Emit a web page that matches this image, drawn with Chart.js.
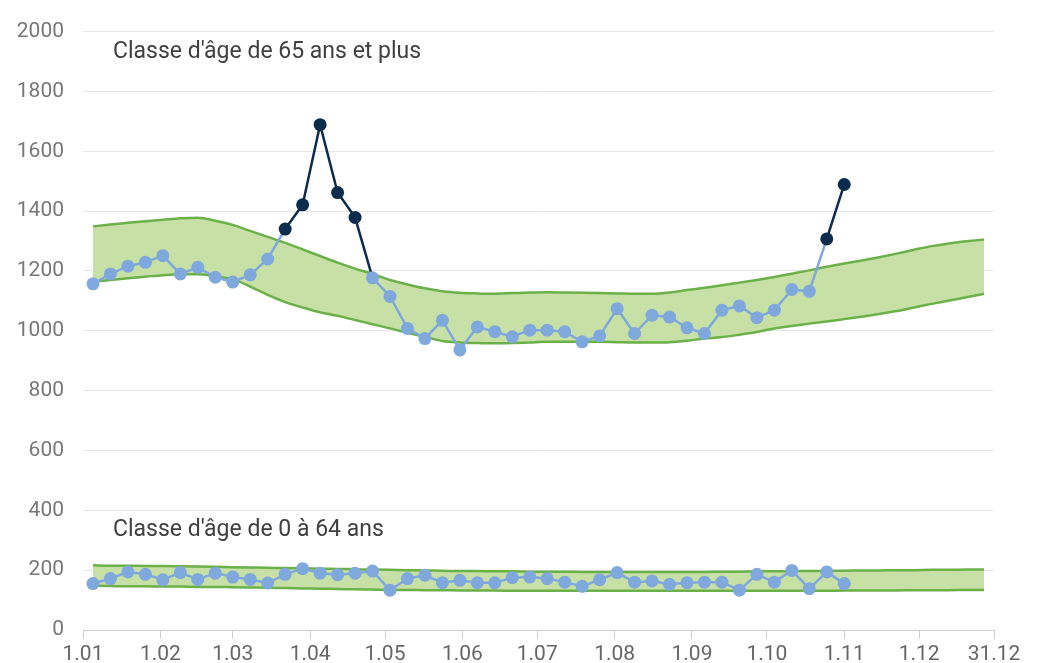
<!DOCTYPE html>
<html>
<head>
<meta charset="utf-8">
<script src="https://cdn.jsdelivr.net/npm/chart.js@4/dist/chart.umd.min.js"></script>
<style>
  html, body { margin: 0; padding: 0; background: #fff; }
  #wrap { width: 1043px; height: 663px; }
</style>
</head>
<body>
<div id="wrap"><canvas id="chart" width="1043" height="663"></canvas></div>
<script>
// jours de l'année (année bissextile), un point par semaine
const weekDays = [4, 11, 18, 25, 32, 39, 46, 53, 60, 67, 74, 81, 88, 95, 102, 109, 116, 123, 130, 137,
  144, 151, 158, 165, 172, 179, 186, 193, 200, 207, 214, 221, 228, 235, 242, 249, 256, 263, 270, 277,
  284, 291, 298, 305, 312, 319, 326, 333, 340, 347, 354, 361];

// graduations de l'axe x
const tickDays = [0, 31, 60, 91, 121, 152, 182, 213, 244, 274, 305, 335, 365];
const tickLabels = ["1.01", "1.02", "1.03", "1.04", "1.05", "1.06", "1.07", "1.08", "1.09", "1.10", "1.11", "1.12", "31.12"];

// 65 ans et plus
const deaths65 = [1157, 1190, 1216, 1229, 1251, 1190, 1212, 1179, 1163, 1187, 1240, 1340, 1421, 1689, 1462,
  1379, 1177, 1115, 1008, 974, 1035, 936, 1013, 997, 980, 1002, 1002, 997, 963, 983, 1074, 991, 1052,
  1046, 1010, 991, 1069, 1083, 1044, 1069, 1138, 1132, 1307, 1489];
const upper65 = [1349, 1355, 1361, 1366, 1371, 1376, 1378, 1368, 1354, 1334, 1314, 1294, 1272, 1250, 1228,
  1208, 1190, 1170, 1155, 1142, 1132, 1127, 1125, 1124, 1126, 1128, 1129, 1128, 1127, 1126, 1125, 1124,
  1124, 1128, 1136, 1144, 1152, 1161, 1170, 1180, 1191, 1202, 1214, 1225, 1235, 1246, 1258, 1271, 1283,
  1292, 1299, 1305];
const lower65 = [1163, 1170, 1176, 1181, 1186, 1189, 1189, 1182, 1172, 1148, 1120, 1096, 1078, 1062, 1050,
  1036, 1022, 1008, 993, 980, 966, 961, 959, 958, 959, 961, 963, 963, 963, 963, 962, 961, 961, 962, 967,
  974, 979, 987, 996, 1008, 1016, 1024, 1031, 1039, 1047, 1056, 1066, 1078, 1090, 1101, 1112, 1124];

// 0 à 64 ans
const deaths0 = [155, 172, 194, 186, 168, 192, 169, 190, 177, 169, 157, 186, 205, 190, 185, 190, 197, 133,
  172, 183, 158, 166, 158, 158, 175, 177, 172, 160, 146, 168, 192, 160, 164, 153, 158, 160, 160, 133, 186,
  160, 199, 138, 194, 155];
const upper0 = [216, 215, 215, 214, 214, 213, 212, 211, 210, 209, 208, 207, 206, 205, 204, 203, 202, 201,
  200, 199, 198, 197, 197, 196, 196, 195, 195, 195, 194, 194, 194, 194, 194, 194, 194, 194, 195, 195, 196,
  196, 197, 197, 198, 198, 199, 199, 200, 200, 201, 201, 202, 202];
const lower0 = [148, 147, 146, 146, 145, 145, 144, 144, 143, 142, 141, 140, 139, 138, 137, 136, 135, 134,
  134, 133, 133, 132, 132, 132, 131, 131, 131, 131, 131, 131, 131, 131, 131, 131, 131, 131, 131, 131, 131,
  131, 131, 131, 131, 132, 132, 132, 132, 133, 133, 133, 134, 134];

const LIGHT = "#7fa8dd";
const DARK = "#0c2c4e";
const GREEN = "#6cb04a";
const FILL = "#c7e0a6";

const pts = (vals) => vals.map((v, i) => ({ x: weekDays[i], y: v }));
const over65 = deaths65.map((v, i) => v > upper65[i]);

const bandStyle = {
  borderColor: GREEN,
  backgroundColor: FILL,
  borderWidth: 2.5,
  pointRadius: 0,
  tension: 0.4,
  cubicInterpolationMode: "monotone"
};

// textes dans la zone du graphique
const labelsPlugin = {
  id: "classLabels",
  afterDatasetsDraw(chart) {
    const { ctx, scales: { x, y } } = chart;
    ctx.save();
    ctx.font = "23px Roboto";
    ctx.fillStyle = "#404040";
    ctx.textBaseline = "middle";
    ctx.fillText("Classe d'âge de 65 ans et plus", x.getPixelForValue(12), y.getPixelForValue(1930));
    ctx.fillText("Classe d'âge de 0 à 64 ans", x.getPixelForValue(12), y.getPixelForValue(335));
    ctx.restore();
  }
};

new Chart(document.getElementById("chart").getContext("2d"), {
  type: "line",
  data: {
    datasets: [
      { ...bandStyle, data: pts(upper65), fill: false, order: 5 },
      { ...bandStyle, data: pts(lower65), fill: "-1", order: 5 },
      { ...bandStyle, data: pts(upper0), fill: false, order: 5 },
      { ...bandStyle, data: pts(lower0), fill: "-1", order: 5 },
      {
        data: pts(deaths65),
        borderColor: LIGHT,
        borderWidth: 2.5,
        tension: 0,
        pointRadius: 6.5,
        pointBorderWidth: 0,
        pointBackgroundColor: over65.map(o => o ? DARK : LIGHT),
        segment: { borderColor: c => over65[c.p0DataIndex] ? DARK : LIGHT },
        fill: false,
        order: 1
      },
      {
        data: pts(deaths0),
        borderColor: LIGHT,
        borderWidth: 2.5,
        tension: 0,
        pointRadius: 6.5,
        pointBorderWidth: 0,
        pointBackgroundColor: LIGHT,
        fill: false,
        order: 1
      }
    ]
  },
  options: {
    responsive: false,
    animation: false,
    layout: { padding: { top: 23, right: 49, left: 0, bottom: 0 } },
    plugins: { legend: { display: false }, tooltip: { enabled: false } },
    scales: {
      x: {
        type: "linear",
        min: 0,
        max: 365,
        afterBuildTicks: (axis) => { axis.ticks = tickDays.map(v => ({ value: v })); },
        ticks: {
          autoSkip: false,
          maxRotation: 0,
          padding: 3,
          color: "#666",
          font: { family: "Roboto", size: 21 },
          callback: (v) => tickLabels[tickDays.indexOf(v)]
        },
        grid: { drawOnChartArea: false, drawTicks: true, tickLength: 9, color: "#cfcfcf" },
        border: { display: true, color: "#cfcfcf", width: 1 },
        afterFit: (s) => { s.height = 33; }
      },
      y: {
        min: 0,
        max: 2000,
        ticks: {
          stepSize: 200,
          padding: 19,
          color: "#777",
          font: { family: "Roboto", size: 21 },
          callback: (v) => String(v)
        },
        grid: { drawTicks: false, color: "#e6e6e6" },
        border: { display: false },
        afterFit: (s) => { s.width = 83; }
      }
    }
  },
  plugins: [labelsPlugin]
});
</script>
</body>
</html>
